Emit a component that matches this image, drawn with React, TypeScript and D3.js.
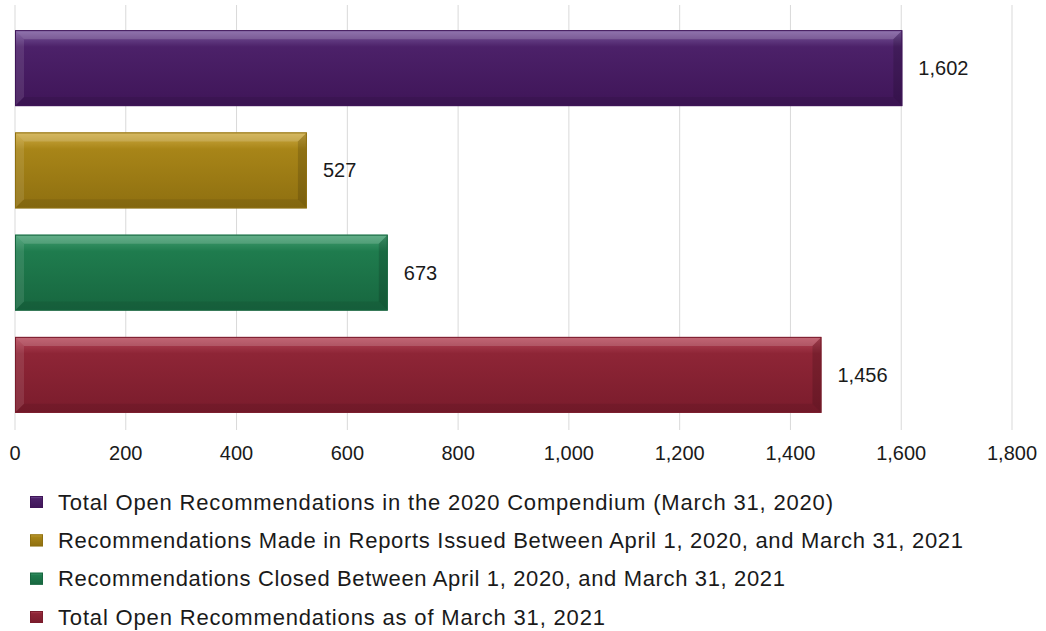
import React from "react";
import * as d3 from "d3";

const categories: string[] = [
  "Total Open Recommendations in the 2020 Compendium (March 31, 2020)",
  "Recommendations Made in Reports Issued Between April 1, 2020, and March 31, 2021",
  "Recommendations Closed Between April 1, 2020, and March 31, 2021",
  "Total Open Recommendations as of March 31, 2021",
];
const values: number[] = [1602, 527, 673, 1456];
const xTicks: number[] = [0, 200, 400, 600, 800, 1000, 1200, 1400, 1600, 1800];

const baseColors = ["#4c2169", "#a88518", "#1f7c4e", "#8e2536"];
const lightColors = ["#7d5ca0", "#d0ad45", "#45a073", "#b84a5c"];
const darkColors = ["#3f1558", "#8e6f10", "#17663f", "#7a1c2c"];

const W = 1046;
const H = 631;
const FONT = "'Liberation Sans', Arial, sans-serif";

export default function App() {
  const x = d3.scaleLinear().domain([0, 1800]).range([15, 1012]);
  const y = d3
    .scaleBand<string>()
    .domain(categories)
    .range([17, 426])
    .paddingInner(0.257)
    .paddingOuter(0.1285);
  const fmt = d3.format(",");
  const legendY = d3.scalePoint<string>().domain(categories).range([502, 617]);
  const legendWidths = [775, 905, 727, 547];
  const b = 9;

  return (
    <svg
      width={W}
      height={H}
      style={{ position: "absolute", left: 0, top: 0, background: "#fff" }}
    >
      <defs>
        {categories.map((c, i) => (
          <linearGradient key={c} id={`g${i}`} x1="0" y1="0" x2="0" y2="1">
            <stop offset="0%" stopColor={lightColors[i]} />
            <stop offset="22%" stopColor={baseColors[i]} />
            <stop offset="100%" stopColor={darkColors[i]} />
          </linearGradient>
        ))}
      </defs>
      <rect x={0} y={0} width={W} height={H} fill="#fff" />
      {xTicks.map((t) => (
        <line
          key={t}
          x1={x(t)}
          x2={x(t)}
          y1={5}
          y2={430}
          stroke="#d9d9d9"
          strokeWidth={1}
        />
      ))}
      {categories.map((c, i) => {
        const x0 = x(0);
        const x1 = x(values[i]);
        const y0 = y(c)!;
        const y1 = y0 + y.bandwidth();
        return (
          <g key={c}>
            <rect x={x0} y={y0} width={x1 - x0} height={y1 - y0} fill={`url(#g${i})`} />
            <polygon
              points={`${x0},${y0} ${x1},${y0} ${x1 - b},${y0 + b} ${x0 + b},${y0 + b}`}
              fill="#fff"
              opacity={0.16}
            />
            <polygon
              points={`${x0},${y0} ${x0 + b},${y0 + b} ${x0 + b},${y1 - b} ${x0},${y1}`}
              fill="#fff"
              opacity={0.1}
            />
            <polygon
              points={`${x1},${y0} ${x1},${y1} ${x1 - b},${y1 - b} ${x1 - b},${y0 + b}`}
              fill="#000"
              opacity={0.14}
            />
            <polygon
              points={`${x0},${y1} ${x0 + b},${y1 - b} ${x1 - b},${y1 - b} ${x1},${y1}`}
              fill="#000"
              opacity={0.08}
            />
            <rect
              x={x0 + 0.5}
              y={y0 + 0.5}
              width={x1 - x0 - 1}
              height={y1 - y0 - 1}
              fill="none"
              stroke={darkColors[i]}
              strokeWidth={1}
            />
            <text
              x={x1 + 16}
              y={(y0 + y1) / 2}
              dy="0.35em"
              fontFamily={FONT}
              fontSize={20}
              fill="#1a1a1a"
            >
              {fmt(values[i])}
            </text>
          </g>
        );
      })}
      {xTicks.map((t) => (
        <text
          key={t}
          x={x(t)}
          y={460}
          textAnchor="middle"
          fontFamily={FONT}
          fontSize={20}
          fill="#1a1a1a"
        >
          {fmt(t)}
        </text>
      ))}
      {categories.map((c, i) => {
        const cy = legendY(c)!;
        return (
          <g key={c}>
            <rect x={30} y={cy - 6} width={13} height={12} fill={`url(#g${i})`} />
            <rect
              x={30.5}
              y={cy - 5.5}
              width={12}
              height={11}
              fill="none"
              stroke={darkColors[i]}
              strokeWidth={1}
            />
            <text
              x={58}
              y={cy}
              dy="0.35em"
              fontFamily={FONT}
              fontSize={22}
              fill="#1a1a1a"
              textLength={legendWidths[i]}
              lengthAdjust="spacing"
            >
              {c}
            </text>
          </g>
        );
      })}
    </svg>
  );
}
